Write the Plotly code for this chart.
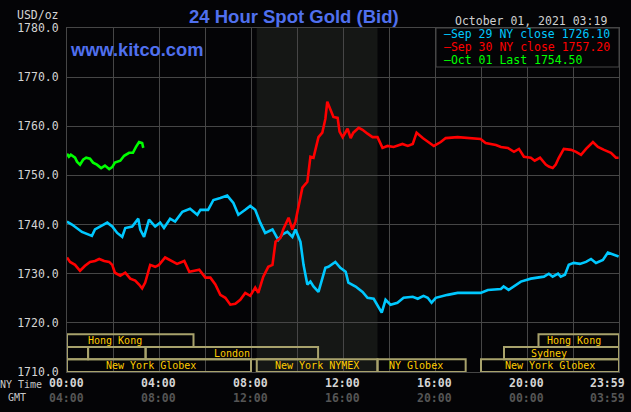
import plotly.graph_objects as go

# ---------------- data (time = minutes after midnight, NY time) ----------------
sep29_t = [0, 13, 39, 65, 73, 86, 105, 118, 131, 144, 152, 170, 186, 191, 201, 214, 230, 243, 253,
           269, 282, 301, 321, 340, 348, 368, 382, 400, 418, 434, 447, 465, 478, 491, 504, 517, 536,
           551, 562, 575, 588, 596, 609, 617, 627, 635, 643, 656, 666, 674, 682, 700, 713, 727, 734,
           753, 771, 784, 800, 813, 821, 831, 844, 862, 878, 902, 915, 930, 941, 951, 962, 993, 1019,
           1079, 1098, 1132, 1139, 1152, 1184, 1210, 1244, 1257, 1267, 1281, 1288, 1299, 1309, 1322,
           1338, 1354, 1367, 1380, 1398, 1411, 1427, 1439]
sep29_v = [1740.6, 1740.0, 1738.5, 1737.7, 1739.0, 1739.6, 1740.4, 1739.6, 1738.3, 1737.5, 1739.3,
           1739.6, 1741.2, 1739.0, 1737.5, 1741.0, 1739.6, 1740.4, 1739.3, 1741.2, 1740.6, 1742.6,
           1743.2, 1742.0, 1743.0, 1743.0, 1745.0, 1745.4, 1745.9, 1744.4, 1742.0, 1743.0, 1743.8,
           1743.0, 1740.4, 1738.3, 1739.0, 1736.9, 1738.0, 1738.5, 1737.5, 1739.0, 1736.5, 1731.8,
           1727.8, 1728.4, 1727.4, 1726.3, 1729.2, 1731.2, 1731.4, 1732.4, 1731.2, 1730.4, 1728.2,
           1727.4, 1726.3, 1725.1, 1724.9, 1723.3, 1722.1, 1724.7, 1723.7, 1724.1, 1725.1, 1725.3,
           1724.9, 1725.5, 1725.1, 1724.1, 1725.1, 1725.7, 1726.1, 1726.1, 1726.7, 1726.9, 1727.4,
           1726.7, 1728.4, 1729.0, 1729.4, 1730.0, 1729.4, 1730.0, 1729.4, 1729.8, 1731.8, 1732.2,
           1732.0, 1732.4, 1733.0, 1732.2, 1732.8, 1734.3, 1733.9, 1733.5]

sep30_t = [0, 8, 21, 34, 47, 60, 73, 84, 97, 110, 118, 125, 139, 152, 165, 178, 188, 196, 204, 217,
           230, 240, 256, 269, 287, 306, 319, 332, 345, 361, 374, 387, 400, 413, 426, 439, 452, 465,
           478, 491, 499, 512, 525, 536, 544, 557, 564, 578, 588, 596, 604, 614, 627, 635, 643, 656,
           666, 674, 679, 687, 695, 706, 711, 719, 732, 740, 747, 761, 771, 784, 797, 810, 823, 836,
           852, 875, 889, 902, 912, 928, 943, 957, 975, 988, 1019, 1079, 1092, 1119, 1132, 1150, 1166,
           1179, 1192, 1210, 1220, 1234, 1249, 1257, 1267, 1275, 1283, 1296, 1315, 1328, 1341, 1354,
           1372, 1385, 1401, 1419, 1432, 1439]
sep30_v = [1733.3, 1732.4, 1731.8, 1730.6, 1731.6, 1732.4, 1732.6, 1733.0, 1732.6, 1732.4, 1731.8,
           1730.2, 1729.6, 1730.2, 1729.0, 1728.6, 1727.8, 1727.0, 1728.2, 1731.8, 1731.4, 1731.8,
           1733.3, 1732.8, 1732.0, 1732.6, 1730.4, 1730.6, 1730.8, 1729.2, 1729.2, 1727.8, 1725.7,
           1725.1, 1723.7, 1723.9, 1724.7, 1726.1, 1725.5, 1727.2, 1726.1, 1729.4, 1731.4, 1731.8,
           1736.5, 1737.3, 1739.0, 1741.4, 1739.0, 1740.6, 1744.0, 1747.5, 1748.7, 1753.8, 1753.6,
           1757.8, 1758.7, 1761.5, 1765.0, 1763.3, 1761.9, 1761.7, 1758.9, 1757.8, 1759.5, 1757.6,
           1758.7, 1759.7, 1759.3, 1758.5, 1757.8, 1757.8, 1755.6, 1756.0, 1755.8, 1756.4, 1756.0,
           1756.4, 1758.7, 1757.6, 1756.8, 1756.0, 1756.8, 1757.6, 1757.8, 1757.4, 1756.6, 1756.2,
           1755.8, 1755.6, 1754.8, 1755.4, 1753.8, 1753.6, 1753.0, 1753.6, 1752.2, 1751.8, 1751.5,
           1752.2, 1753.6, 1755.4, 1755.2, 1754.8, 1754.2, 1755.4, 1756.8, 1755.8, 1755.2, 1754.6,
           1753.6, 1753.6]

oct01_t = [0, 5, 10, 21, 26, 34, 42, 50, 60, 68, 78, 89, 99, 110, 118, 125, 139, 149, 162, 172,
           180, 188, 196, 199]
oct01_v = [1754.4, 1753.8, 1754.2, 1753.6, 1752.8, 1752.2, 1753.2, 1753.6, 1753.4, 1752.6, 1752.2,
           1751.5, 1752.0, 1751.3, 1751.7, 1752.6, 1753.0, 1754.0, 1754.6, 1754.6, 1755.8, 1756.8,
           1756.6, 1755.6]

series_labels = ["Sep 29 NY close 1726.10", "Sep 30 NY close 1757.20", "Oct 01 Last 1754.50"]
series_colors = ["#00c8ff", "#ff0000", "#00ff00"]

y_ticks = [1710, 1720, 1730, 1740, 1750, 1760, 1770, 1780]
ny_tick_vals = [0, 240, 480, 720, 960, 1200, 1440]
ny_tick_text = ["00:00", "04:00", "08:00", "12:00", "16:00", "20:00", "23:59"]
gmt_tick_text = ["04:00", "08:00", "12:00", "16:00", "20:00", "00:00", "03:59"]

title_text = "24 Hour Spot Gold (Bid)"
date_text = "October 01, 2021 03:19"
nymex_window = [495, 810]

# market sessions: label, start, end, row (0 = bottom), label position
sessions = [
    ("New York Globex", 0, 480, 0, 218),
    ("New York NYMEX", 495, 810, 0, 652),
    ("NY Globex", 810, 1040, 0, 911),
    ("New York Globex", 1080, 1440, 0, 1259),
    ("", 0, 55, 1, None),
    ("", 55, 205, 1, None),
    ("London", 205, 655, 1, 430),
    ("Sydney", 1140, 1440, 1, 1258),
    ("Hong Kong", 0, 330, 2, 126),
    ("Hong Kong", 1230, 1440, 2, 1323),
]
row_edges = [1710, 1712.6, 1715.1, 1717.7]

# ---------------- layout geometry ----------------
W, H = 631, 412
L, R, T, B = 67, 12, 28, 40
PW, PH = W - L - R, H - T - B
BG = "#040406"
GRID = "#464646"
MONO = "DejaVu Sans Mono"


def px(x):
    return (x - L) / PW


def py(y):
    return 1 - (y - T) / PH


fig = go.Figure()
for t, v, c in [(sep29_t, sep29_v, series_colors[0]),
                (sep30_t, sep30_v, series_colors[1]),
                (oct01_t, oct01_v, series_colors[2])]:
    fig.add_trace(go.Scatter(x=t, y=v, mode="lines", line=dict(color=c, width=2.6),
                             hoverinfo="skip", showlegend=False))

shapes = []
# NYMEX shaded window
shapes.append(dict(type="rect", xref="x", yref="y", x0=nymex_window[0], x1=nymex_window[1],
                   y0=1710, y1=1780, fillcolor="#151715", line=dict(width=0), layer="below"))
# sessions
for name, s, e, row, lp in sessions:
    shapes.append(dict(type="rect", xref="x", yref="y", x0=s, x1=e,
                       y0=row_edges[row], y1=row_edges[row + 1],
                       line=dict(color="#a8a26c", width=2), fillcolor="rgba(0,0,0,0)", layer="above"))
# legend box
shapes.append(dict(type="rect", xref="paper", yref="paper", x0=px(436), x1=1, y0=py(67), y1=1,
                   fillcolor=BG, line=dict(color=GRID, width=1), layer="above"))

ann = []
for name, s, e, row, lp in sessions:
    if name:
        ann.append(dict(x=lp, y=(row_edges[row] + row_edges[row + 1]) / 2, xref="x", yref="y",
                        text=name, showarrow=False, xanchor="center", yanchor="middle",
                        font=dict(family=MONO, size=10, color="#ffcc00")))
# x tick labels (NY time and GMT)
for i, (tv, nt, gt) in enumerate(zip(ny_tick_vals, ny_tick_text, gmt_tick_text)):
    shift = -12 if i == len(ny_tick_vals) - 1 else -1
    ann.append(dict(x=tv, y=0, xref="x", yref="paper", text="<b>" + nt + "</b>", showarrow=False,
                    xanchor="center", yanchor="middle", yshift=-11, xshift=shift,
                    font=dict(family=MONO, size=11.5, color="#d4d4d4")))
    ann.append(dict(x=tv, y=0, xref="x", yref="paper", text="<b>" + gt + "</b>", showarrow=False,
                    xanchor="center", yanchor="middle", yshift=-25.5, xshift=shift,
                    font=dict(family=MONO, size=11.5, color="#555555")))
ann.append(dict(x=px(44), y=py(384), xref="paper", yref="paper", text="NY Time", showarrow=False,
                xanchor="right", yanchor="middle", font=dict(family=MONO, size=10, color="#c8c8c8")))
ann.append(dict(x=px(28), y=py(398), xref="paper", yref="paper", text="GMT", showarrow=False,
                xanchor="right", yanchor="middle", font=dict(family=MONO, size=10, color="#c8c8c8")))
ann.append(dict(x=px(61), y=py(14.5), xref="paper", yref="paper", text="USD/oz", showarrow=False,
                xanchor="right", yanchor="middle", font=dict(family=MONO, size=11.5, color="#d4d4d4")))
ann.append(dict(x=px(294), y=py(16.5), xref="paper", yref="paper", text="<b>" + title_text + "</b>",
                showarrow=False, xanchor="center", yanchor="middle",
                font=dict(family="Liberation Sans", size=18.5, color="#5070ee")))
ann.append(dict(x=px(68), y=py(49.5), xref="paper", yref="paper", text="<b>www.kitco.com</b>",
                showarrow=False, xanchor="left", yanchor="middle",
                font=dict(family="Liberation Sans", size=18.3, color="#5070ee")))
ann.append(dict(x=px(609), y=py(21), xref="paper", yref="paper", text=date_text, showarrow=False,
                xanchor="right", yanchor="middle", font=dict(family=MONO, size=11.5, color="#d0d0d0")))
legend_y = [33.6, 47.0, 60.4]
for lab, col, ly in zip(series_labels, series_colors, legend_y):
    ann.append(dict(x=px(442), y=py(ly), xref="paper", yref="paper", text="–" + lab,
                    showarrow=False, xanchor="left", yanchor="middle",
                    font=dict(family=MONO, size=11.5, color=col)))

fig.update_layout(
    width=W, height=H, margin=dict(l=L, r=R, t=T, b=B),
    paper_bgcolor=BG, plot_bgcolor=BG,
    shapes=shapes, annotations=ann, showlegend=False,
    xaxis=dict(range=[0, 1440], tick0=0, dtick=120, showgrid=True, gridcolor=GRID, gridwidth=1,
               zeroline=False, showticklabels=False, ticks="", showline=True, mirror=True,
               linecolor=GRID, linewidth=1, fixedrange=True),
    yaxis=dict(range=[1710, 1780], tickvals=y_ticks, ticktext=[f"{v:.1f}" for v in y_ticks],
               showgrid=True, gridcolor=GRID, gridwidth=1, zeroline=False, ticks="",
               ticklabelstandoff=5, showline=True, mirror=True, linecolor=GRID, linewidth=1,
               tickfont=dict(family=MONO, size=11.5, color="#d4d4d4"), fixedrange=True),
)

fig.write_html("out.html", config={"displayModeBar": False})
